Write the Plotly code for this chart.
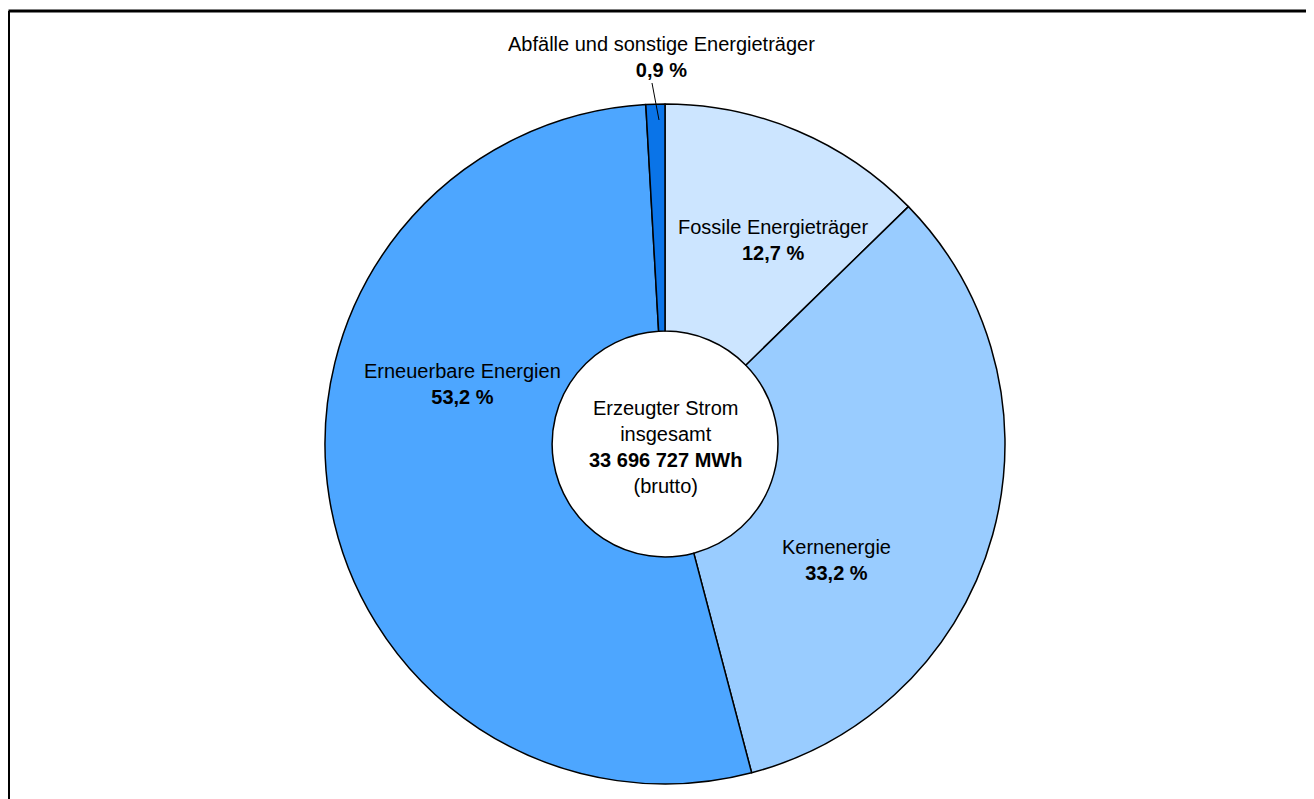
import plotly.graph_objects as go

W, H = 1314, 799
OFF = 8  # page body margin in pixels

labels = ["Fossile Energieträger", "Kernenergie", "Erneuerbare Energien", "Abfälle und sonstige Energieträger"]
values = [12.7, 33.2, 53.2, 0.9]
colors = ["#CCE5FF", "#99CCFF", "#4DA6FF", "#0A74E8"]
center_lines = ["Erzeugter Strom", "insgesamt", "33 696 727 MWh", "(brutto)"]

FONT = "Liberation Sans Narrow, Arial Narrow, Liberation Sans, Arial, sans-serif"

def px_x(x):
    return (x - OFF) / W

def px_y(y):
    return 1 - (y - OFF) / H

def fmt(v):
    return f"{v:.1f}".replace(".", ",") + " %"

fig = go.Figure()
fig.add_trace(go.Pie(
    labels=labels,
    values=values,
    marker=dict(colors=colors, line=dict(color="black", width=1.5)),
    sort=False,
    direction="clockwise",
    rotation=0,
    hole=0.332,
    textinfo="none",
    hoverinfo="label+percent",
    showlegend=False,
    domain=dict(x=[px_x(325), px_x(1005)], y=[px_y(784), px_y(104)]),
))

label_pos = [(773, 240), (836, 560), (462, 384), (661, 57)]
annotations = []
for lab, v, (x, y) in zip(labels, values, label_pos):
    annotations.append(dict(
        x=px_x(x), y=px_y(y), xref="paper", yref="paper",
        text=f"{lab}<br><b>{fmt(v)}</b>",
        showarrow=False, xanchor="center", yanchor="middle",
        font=dict(family=FONT, size=20, color="black"),
    ))

annotations.append(dict(
    x=px_x(665), y=px_y(447), xref="paper", yref="paper",
    text=f"{center_lines[0]}<br>{center_lines[1]}<br><b>{center_lines[2]}</b><br>{center_lines[3]}",
    showarrow=False, xanchor="center", yanchor="middle",
    font=dict(family=FONT, size=20, color="black"),
))

shapes = [
    dict(type="line", xref="paper", yref="paper", x0=px_x(8.5), x1=px_x(8.5), y0=0, y1=px_y(11),
         line=dict(color="black", width=3)),
    dict(type="line", xref="paper", yref="paper", x0=px_x(8.5), x1=1, y0=px_y(11), y1=px_y(11),
         line=dict(color="black", width=3)),
    dict(type="line", xref="paper", yref="paper", x0=px_x(652), x1=px_x(659), y0=px_y(83), y1=px_y(120),
         line=dict(color="black", width=1)),
]

fig.update_layout(
    width=W, height=H,
    margin=dict(l=0, r=0, t=0, b=0),
    paper_bgcolor="white", plot_bgcolor="white",
    annotations=annotations,
    shapes=shapes,
)

fig.write_html("out.html")
